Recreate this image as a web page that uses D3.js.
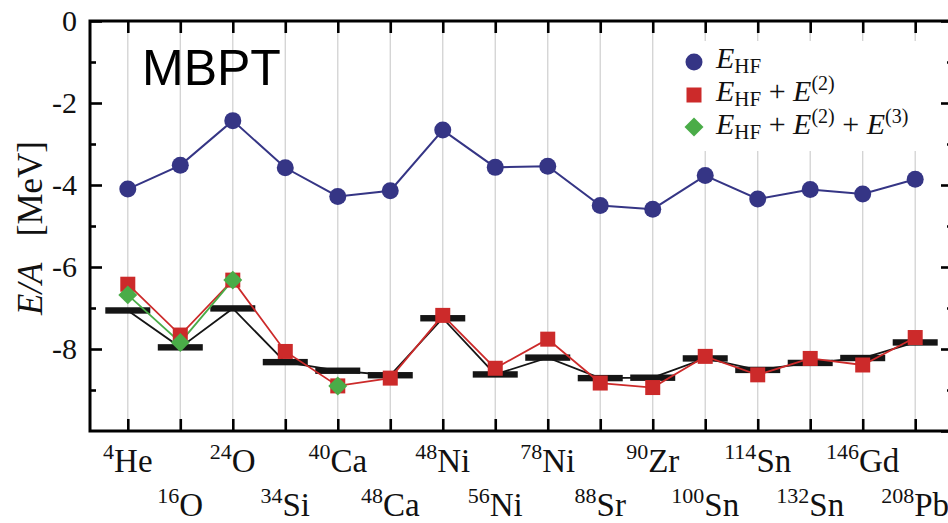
<!DOCTYPE html>
<html>
<head>
<meta charset="utf-8">
<script src="https://cdn.jsdelivr.net/npm/d3@7"></script>
<style>
  html, body { margin: 0; padding: 0; background: #fff; }
  svg { display: block; }
  svg text { font-family: 'Liberation Serif', 'Times New Roman', 'DejaVu Serif', serif; }
</style>
</head>
<body>
<div id="chart"></div>
<script>
// nuclei along the x axis
const massNumbers = ['4','16','24','34','40','48','48','56','78','88','90','100','114','132','146','208'];
const elements    = ['He','O','O','Si','Ca','Ca','Ni','Ni','Ni','Sr','Zr','Sn','Sn','Sn','Gd','Pb'];

// E/A in MeV
const eHF      = [-4.10, -3.52, -2.43, -3.58, -4.28, -4.14, -2.66, -3.57, -3.54, -4.50, -4.59, -3.77, -4.34, -4.11, -4.22, -3.86];
const eHF2     = [-6.42, -7.66, -6.32, -8.06, -8.90, -8.71, -7.18, -8.47, -7.76, -8.83, -8.94, -8.18, -8.63, -8.23, -8.39, -7.72];
const eHF23    = [-6.68, -7.84, -6.32, null, -8.90, null, null, null, null, null, null, null, null, null, null, null];
const expt     = [-7.06, -7.96, -7.01, -8.32, -8.53, -8.64, -7.25, -8.62, -8.21, -8.71, -8.70, -8.23, -8.51, -8.34, -8.22, -7.84];

const yMajor = [0, -2, -4, -6, -8, -10];
const yMinor = [-1, -3, -5, -7, -9];

const W = 948, H = 523;
const L = 90, R = 953, T = 21, B = 431;
const serif = "'Liberation Serif', 'Times New Roman', 'DejaVu Serif', serif";

const keys = massNumbers.map((m, i) => m + elements[i]);

const x = d3.scalePoint().domain(keys).range([L, R]).padding(0.72);
const y = d3.scaleLinear().domain([-10, 0]).range([B, T]);

const svg = d3.select('#chart').append('svg')
  .attr('width', W).attr('height', H);

// vertical grid
svg.append('g').selectAll('line')
  .data(keys).join('line')
  .attr('x1', d => x(d)).attr('x2', d => x(d))
  .attr('y1', T).attr('y2', B)
  .attr('stroke', '#d2d2d2').attr('stroke-width', 1.3);

// legend background hides the grid
svg.append('rect')
  .attr('x', 674).attr('y', 41).attr('width', 262).attr('height', 110)
  .attr('fill', '#fff');

// axes (ticks pointing inward)
function styleAxis(g) {
  g.attr('font-family', null).attr('font-size', null);
  g.select('.domain').remove();
  g.selectAll('.tick line').attr('stroke', '#000').attr('stroke-width', 2.6);
  g.selectAll('.tick text').attr('fill', '#111')
    .attr('font-family', serif).style('font-size', '30px');
}

svg.append('g').attr('transform', `translate(${L},0)`)
  .call(d3.axisLeft(y).tickValues(yMajor.filter(v => v > -10)).tickSize(-12).tickPadding(13)
    .tickFormat(d => String(d)))
  .call(styleAxis);
svg.append('g').attr('transform', `translate(${L},0)`)
  .call(d3.axisLeft(y).tickValues(yMinor).tickSize(-6).tickFormat(''))
  .call(styleAxis);
svg.append('g').attr('transform', `translate(${R},0)`)
  .call(d3.axisRight(y).tickValues(yMajor).tickSize(-12).tickFormat(''))
  .call(styleAxis);
svg.append('g').attr('transform', `translate(${R},0)`)
  .call(d3.axisRight(y).tickValues(yMinor).tickSize(-6).tickFormat(''))
  .call(styleAxis);
svg.append('g').attr('transform', `translate(0,${T})`)
  .call(d3.axisTop(x).tickSize(-12).tickFormat(''))
  .call(styleAxis);
svg.append('g').attr('transform', `translate(0,${B})`)
  .call(d3.axisBottom(x).tickSize(-12).tickFormat(''))
  .call(styleAxis);

// frame
svg.append('rect')
  .attr('x', L).attr('y', T).attr('width', R - L).attr('height', B - T)
  .attr('fill', 'none').attr('stroke', '#000').attr('stroke-width', 3);

// nucleus labels, two staggered rows
const xl = svg.append('g').selectAll('text')
  .data(keys).join('text')
  .attr('x', d => x(d))
  .attr('y', (d, i) => i % 2 === 0 ? 472 : 516)
  .attr('text-anchor', 'middle')
  .attr('fill', '#111')
  .style('font-size', '33px');
xl.append('tspan').attr('dy', -13).style('font-size', '22px').text((d, i) => massNumbers[i]);
xl.append('tspan').attr('dy', 13).text((d, i) => elements[i]);

// y axis title
const yt = svg.append('text')
  .attr('transform', 'translate(42,228) rotate(-90)')
  .attr('text-anchor', 'middle').attr('fill', '#111')
  .style('font-size', '35px');
yt.append('tspan').style('font-style', 'italic').text('E/A');
yt.append('tspan').text('\u00a0\u00a0\u00a0[MeV]');

// MBPT label
svg.append('text')
  .attr('x', 142).attr('y', 85)
  .attr('fill', '#000')
  .style('font-family', "'Liberation Sans', Arial, sans-serif").style('font-size', '50px')
  .text('MBPT');

const idx = d3.range(keys.length);
const line = vals => d3.line()
  .defined(i => vals[i] != null)
  .x(i => x(keys[i])).y(i => y(vals[i]));

const colBlue = '#353585', colRed = '#cc2a2a', colGreen = '#4aac48', colBlack = '#151515';

// experiment: bars joined by a thin line
svg.append('path').datum(idx)
  .attr('d', line(expt)).attr('fill', 'none')
  .attr('stroke', colBlack).attr('stroke-width', 1.8);
svg.append('g').selectAll('rect')
  .data(idx).join('rect')
  .attr('x', i => x(keys[i]) - 22.5).attr('y', i => y(expt[i]) - 3.2)
  .attr('width', 45).attr('height', 6.4)
  .attr('fill', colBlack);

// E_HF + E(2)
svg.append('path').datum(idx)
  .attr('d', line(eHF2)).attr('fill', 'none')
  .attr('stroke', colRed).attr('stroke-width', 1.8);

// E_HF + E(2) + E(3) line
svg.append('path').datum(idx)
  .attr('d', line(eHF23)).attr('fill', 'none')
  .attr('stroke', colGreen).attr('stroke-width', 1.8);

svg.append('g').selectAll('rect')
  .data(idx).join('rect')
  .attr('x', i => x(keys[i]) - 7.5).attr('y', i => y(eHF2[i]) - 7.5)
  .attr('width', 15).attr('height', 15)
  .attr('fill', colRed);

const diamond = d3.symbol().type(d3.symbolSquare).size(180);
svg.append('g').selectAll('path')
  .data(idx.filter(i => eHF23[i] != null)).join('path')
  .attr('d', diamond)
  .attr('transform', i => `translate(${x(keys[i])},${y(eHF23[i])}) rotate(45)`)
  .attr('fill', colGreen);

// E_HF
svg.append('path').datum(idx)
  .attr('d', line(eHF)).attr('fill', 'none')
  .attr('stroke', colBlue).attr('stroke-width', 2);
svg.append('g').selectAll('circle')
  .data(idx).join('circle')
  .attr('cx', i => x(keys[i])).attr('cy', i => y(eHF[i]))
  .attr('r', 8.5).attr('fill', colBlue);

// legend
const lg = svg.append('g');
lg.append('circle').attr('cx', 694).attr('cy', 62).attr('r', 8.5).attr('fill', colBlue);
lg.append('rect').attr('x', 686.5).attr('y', 87.5).attr('width', 15).attr('height', 15).attr('fill', colRed);
lg.append('path').attr('d', diamond).attr('transform', 'translate(694,127) rotate(45)').attr('fill', colGreen);

const entries = [
  [['E', 'it'], ['HF', 'sub']],
  [['E', 'it'], ['HF', 'sub'], [' + ', 'n'], ['E', 'it'], ['(2)', 'sup']],
  [['E', 'it'], ['HF', 'sub'], [' + ', 'n'], ['E', 'it'], ['(2)', 'sup'], [' + ', 'n'], ['E', 'it'], ['(3)', 'sup']]
];
entries.forEach((parts, r) => {
  const t = lg.append('text')
    .attr('x', 716).attr('y', 68 + r * 33)
    .attr('fill', '#111')
    .style('font-size', '30px')
    .style('white-space', 'pre');
  let shift = 0;
  parts.forEach(([s, kind]) => {
    const target = kind === 'sub' ? 5 : kind === 'sup' ? -11 : 0;
    const ts = t.append('tspan').attr('dy', target - shift).text(s);
    shift = target;
    if (kind === 'it') ts.style('font-style', 'italic');
    if (kind === 'sub') ts.style('font-size', '21px');
    if (kind === 'sup') ts.style('font-size', '20px');
  });
});
</script>
</body>
</html>
